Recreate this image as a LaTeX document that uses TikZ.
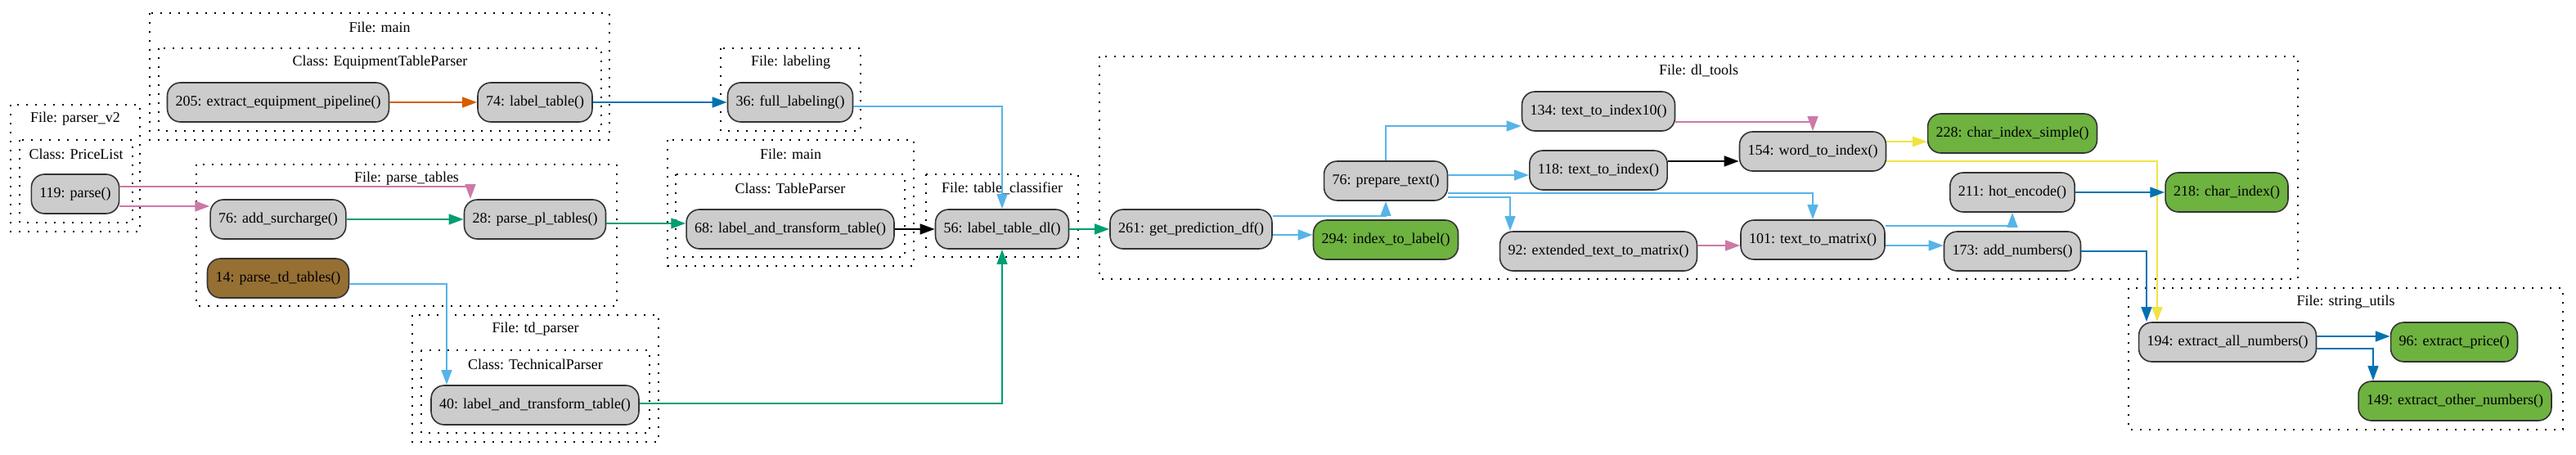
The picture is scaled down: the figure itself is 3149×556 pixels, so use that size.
\documentclass[tikz,border=0pt]{standalone}
\usepackage{fontspec}
\setmainfont{Liberation Serif}
\usetikzlibrary{arrows.meta}
\definecolor{fngray}{HTML}{CCCCCC}
\definecolor{leafgreen}{HTML}{6EB240}
\definecolor{rootbrown}{HTML}{966F33}
\definecolor{cvermilion}{HTML}{D55E00}
\definecolor{cblue}{HTML}{0072B2}
\definecolor{csky}{HTML}{56B4E9}
\definecolor{cgreen}{HTML}{009E73}
\definecolor{cpink}{HTML}{CC79A7}
\definecolor{cyellow}{HTML}{F0E442}

\begin{document}
\begin{tikzpicture}[x=0.5pt,y=-0.5pt,font=\fontsize{9}{11}\selectfont]
\tikzstyle{fn}=[rectangle, rounded corners=8pt, draw=black!80, line width=0.8pt, fill=fngray, minimum height=24pt, inner xsep=5pt, inner ysep=0pt]
\tikzstyle{leaf}=[fn, fill=leafgreen]
\tikzstyle{root}=[fn, fill=rootbrown]
\tikzstyle{cluster}=[line width=0.9pt, dash pattern=on 0.9pt off 4.6pt]
\tikzstyle{clustertitle}=[inner sep=0pt]
\tikzstyle{call}=[line width=1.3pt, -{Triangle[length=9pt,width=6.3pt]}]

\useasboundingbox (0,0) rectangle (3149,556);

% files and classes
\foreach \xa/\ya/\xb/\yb/\txt [count=\n] in {
13/128/171/283/File: parser\_v2,
24/171/162/272/Class: PriceList,
183/16/745/171/File: main,
194/59/735/160/Class: EquipmentTableParser,
240/201/754/374/File: parse\_tables,
504/385/805/540/File: td\_parser,
515/428/794/529/Class: TechnicalParser,
881/59/1052/160/File: labeling,
816/171/1117/325/File: main,
826/213/1106/314/Class: TableParser,
1132/213/1318/314/File: table\_classifier,
1344/69/2809/341/File: dl\_tools,
2602/352/3133/525/File: string\_utils} {
\draw[cluster] (\xa,\ya) rectangle (\xb,\yb);
\node[clustertitle] (cl\n) at ({(\xa+\xb)/2},{\ya+17}) {\txt};
}

% functions
\foreach \name/\x/\y/\sty/\txt in {
parse/92/237/fn/119: parse(),
extractpipe/340/125/fn/205: extract\_equipment\_pipeline(),
labeltable/654/125/fn/74: label\_table(),
addsurcharge/340/268/fn/76: add\_surcharge(),
parsepl/654/268/fn/28: parse\_pl\_tables(),
parsetd/340/340/root/14: parse\_td\_tables(),
tdlabel/654/495/fn/40: label\_and\_transform\_table(),
fulllabeling/966/125/fn/36: full\_labeling(),
tplabel/966/280/fn/68: label\_and\_transform\_table(),
labeldl/1225/280/fn/56: label\_table\_dl(),
getpred/1456/280/fn/261: get\_prediction\_df(),
preparetext/1694/221/fn/76: prepare\_text(),
indextolabel/1694/293/leaf/294: index\_to\_label(),
index10/1954/136/fn/134: text\_to\_index10(),
texttoindex/1954/208/fn/118: text\_to\_index(),
extmatrix/1954/307/fn/92: extended\_text\_to\_matrix(),
wordindex/2216/185/fn/154: word\_to\_index(),
texttomatrix/2216/293/fn/101: text\_to\_matrix(),
charsimple/2460/163/leaf/228: char\_index\_simple(),
hotencode/2460/235/fn/211: hot\_encode(),
addnumbers/2460/307/fn/173: add\_numbers(),
charindex/2722/235/leaf/218: char\_index(),
allnumbers/2723/418/fn/194: extract\_all\_numbers(),
extractprice/3000/418/leaf/96: extract\_price(),
othernumbers/3001/490/leaf/149: extract\_other\_numbers()} {
\node[\sty] (\name) at (\x,\y) {\txt};
}

% calls
\draw[call, cpink] ([yshift=4.5pt]parse.east) -| ([xshift=-39.5pt]parsepl.north);
\draw[call, cpink] ([yshift=-7.5pt]parse.east) -- ([yshift=8pt]addsurcharge.west);
\draw[call, cvermilion] (extractpipe) -- (labeltable);
\draw[call, cblue] (labeltable) -- (fulllabeling);
\draw[call, csky] ([yshift=-2.5pt]fulllabeling.east) -| (labeldl.north);
\draw[call, cgreen] (addsurcharge) -- (parsepl);
\draw[call, cgreen] ([yshift=-2.5pt]parsepl.east) -- ([yshift=3.5pt]tplabel.west);
\draw[call, csky] ([yshift=-3.5pt]parsetd.east) -| ([xshift=-54pt]tdlabel.north);
\draw[call, cgreen] ([yshift=1pt]tdlabel.east) -| (labeldl.south);
\draw[call] (tplabel) -- (labeldl);
\draw[call, cgreen] (labeldl) -- (getpred);
\draw[call, csky] ([yshift=8pt]getpred.east) -| (preparetext.south);
\draw[call, csky] ([yshift=-3.5pt]getpred.east) -- ([yshift=3pt]indextolabel.west);
\draw[call, csky] (preparetext.north) |- ([yshift=-9pt]index10.west);
\draw[call, csky] ([yshift=3.5pt]preparetext.east) -- ([yshift=-3pt]texttoindex.west);
\draw[call, csky] ([yshift=-7.5pt]preparetext.east) -| (texttomatrix.north);
\draw[call, csky] ([yshift=-10pt]preparetext.east) -| ([xshift=-54pt]extmatrix.north);
\draw[call, cpink] ([yshift=-6.5pt]index10.east) -| (wordindex.north);
\draw[call] ([yshift=5.5pt]texttoindex.east) -- ([yshift=-6pt]wordindex.west);
\draw[call, cpink] ([yshift=3.5pt]extmatrix.east) -- ([yshift=-3.5pt]texttomatrix.west);
\draw[call, cyellow] ([yshift=6pt]wordindex.east) -- ([yshift=-5pt]charsimple.west);
\draw[call, cyellow] ([yshift=-6pt]wordindex.east) -| ([xshift=-43pt]allnumbers.north);
\draw[call, csky] ([yshift=8.5pt]texttomatrix.east) -| (hotencode.south);
\draw[call, csky] ([yshift=-3.5pt]texttomatrix.east) -- ([yshift=3.5pt]addnumbers.west);
\draw[call, cblue] (hotencode) -- (charindex);
\draw[call, cblue] (addnumbers.east) -| ([xshift=-49.5pt]allnumbers.north);
\draw[call, cblue] ([yshift=3.5pt]allnumbers.east) -- ([yshift=3.5pt]extractprice.west);
\draw[call, cblue] ([yshift=-4pt]allnumbers.east) -| ([xshift=-50pt]othernumbers.north);
\end{tikzpicture}
\end{document}
